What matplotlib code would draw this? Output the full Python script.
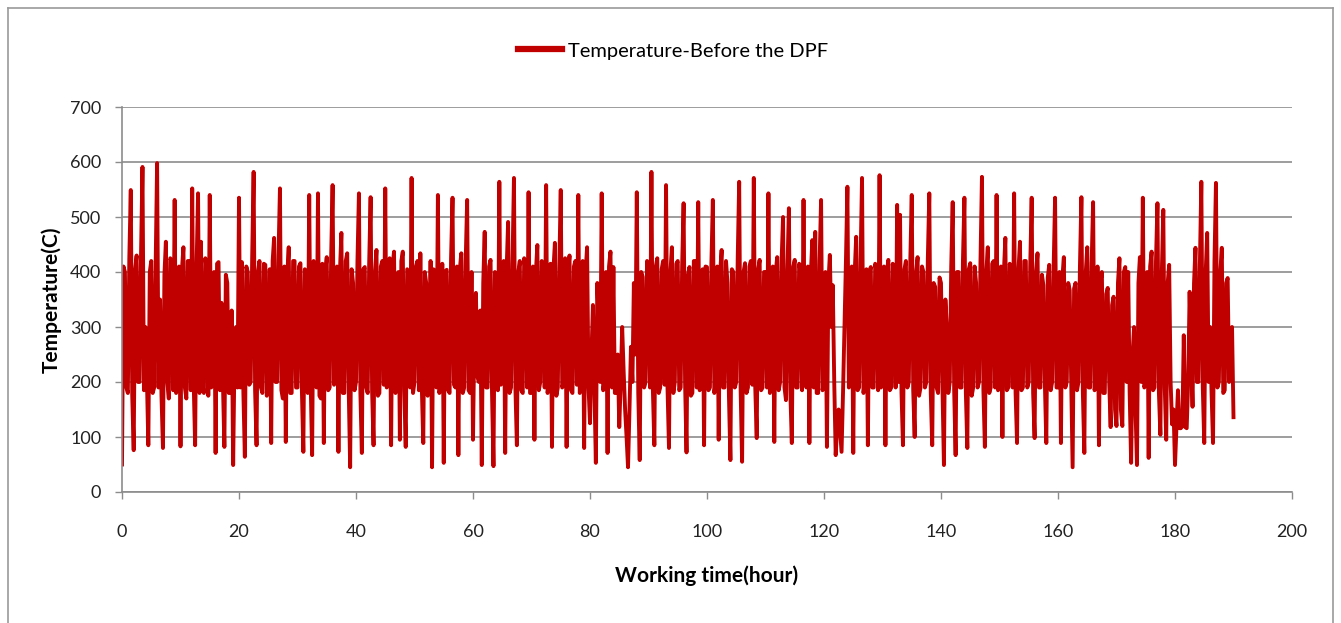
import numpy as np
import matplotlib.pyplot as plt
from matplotlib.lines import Line2D

plt.rcParams['font.family'] = ['Lato', 'DejaVu Sans']

# Temperature readings before the DPF, one reading every quarter hour (C)
temp_00_10 = [50, 410, 400, 190, 180, 425, 549, 175, 76, 405, 430, 200, 200, 430, 591, 185, 300, 210, 85, 400,
              420, 180, 190, 410, 598, 190, 350, 175, 80, 395, 455, 200, 170, 425, 420, 185, 531, 180, 200, 410]
temp_10_20 = [83, 405, 445, 190, 170, 420, 420, 185, 552, 200, 85, 410, 543, 180, 455, 195, 180, 425, 400, 175,
              540, 190, 200, 400, 71, 415, 418, 185, 344, 200, 82, 395, 380, 180, 180, 330, 49, 260, 300, 190]
temp_20_30 = [535, 190, 418, 180, 64, 410, 400, 195, 200, 425, 582, 185, 85, 400, 420, 190, 180, 415, 413, 175,
              190, 405, 89, 420, 462, 200, 200, 430, 552, 185, 170, 410, 91, 395, 445, 180, 180, 420, 420, 190]
temp_30_40 = [190, 410, 416, 185, 73, 405, 400, 180, 540, 200, 67, 420, 380, 190, 543, 175, 170, 415, 89, 400,
              427, 185, 190, 425, 558, 195, 250, 410, 73, 400, 471, 180, 180, 420, 434, 190, 45, 405, 380, 185]
temp_40_50 = [200, 420, 543, 180, 71, 405, 409, 190, 180, 415, 536, 185, 85, 400, 440, 175, 180, 410, 420, 195,
              552, 190, 200, 425, 85, 410, 437, 180, 190, 400, 95, 420, 437, 185, 82, 405, 300, 190, 571, 180]
temp_50_60 = [200, 410, 420, 185, 434, 190, 89, 400, 380, 175, 200, 420, 45, 405, 400, 190, 540, 180, 200, 415,
              53, 400, 404, 185, 180, 425, 535, 195, 190, 410, 67, 405, 434, 180, 190, 420, 531, 185, 180, 400]
temp_60_70 = [95, 300, 362, 210, 200, 330, 49, 380, 473, 190, 190, 410, 422, 180, 47, 400, 380, 185, 564, 195,
              200, 420, 71, 405, 491, 180, 190, 415, 571, 190, 85, 400, 420, 185, 180, 425, 400, 190, 545, 180]
temp_70_80 = [180, 410, 95, 400, 449, 185, 200, 420, 400, 190, 558, 180, 200, 415, 82, 405, 453, 175, 190, 410,
              549, 190, 200, 425, 82, 400, 430, 185, 180, 410, 420, 195, 540, 180, 190, 420, 80, 400, 445, 190]
temp_80_90 = [125, 250, 340, 190, 53, 380, 300, 200, 543, 185, 200, 400, 71, 410, 437, 190, 409, 180, 180, 250,
              118, 200, 300, 220, 150, 100, 45, 150, 264, 200, 380, 250, 545, 180, 58, 400, 391, 190, 200, 420]
temp_90_100 = [400, 190, 582, 185, 85, 410, 425, 180, 190, 405, 420, 195, 558, 190, 80, 400, 445, 180, 200, 415,
               420, 185, 190, 410, 525, 200, 72, 395, 409, 175, 180, 420, 420, 190, 527, 185, 200, 405, 85, 410]
temp_100_110 = [409, 185, 190, 415, 531, 180, 200, 410, 95, 400, 440, 190, 190, 420, 380, 175, 58, 405, 400, 190,
                200, 425, 564, 185, 55, 400, 416, 180, 190, 410, 420, 195, 571, 190, 98, 405, 422, 185, 190, 400]
temp_110_120 = [400, 190, 543, 180, 200, 410, 91, 400, 427, 185, 200, 420, 500, 190, 167, 405, 516, 180, 89, 410,
                422, 190, 190, 415, 400, 185, 531, 200, 190, 410, 89, 395, 458, 190, 473, 180, 180, 420, 531, 185]
temp_120_130 = [200, 400, 82, 380, 431, 300, 376, 200, 67, 120, 150, 110, 73, 180, 300, 420, 555, 190, 200, 410,
                71, 400, 464, 185, 190, 420, 571, 180, 200, 405, 85, 400, 409, 190, 190, 415, 400, 185, 576, 190]
temp_130_140 = [200, 410, 85, 400, 422, 185, 190, 415, 380, 190, 522, 200, 504, 180, 85, 405, 420, 190, 200, 420,
                540, 185, 100, 400, 427, 175, 190, 410, 400, 190, 200, 425, 543, 180, 85, 380, 373, 190, 180, 390]
temp_140_150 = [380, 190, 49, 350, 300, 180, 200, 410, 527, 185, 67, 400, 400, 190, 190, 420, 535, 180, 80, 405,
                416, 175, 190, 410, 380, 190, 200, 420, 573, 185, 82, 400, 445, 180, 190, 415, 420, 190, 540, 185]
temp_150_160 = [200, 410, 100, 400, 462, 185, 190, 415, 400, 190, 543, 180, 89, 405, 455, 185, 190, 420, 420, 190,
                200, 410, 535, 180, 98, 400, 434, 190, 190, 395, 376, 200, 89, 390, 413, 185, 200, 405, 535, 190]
temp_160_170 = [190, 400, 89, 390, 427, 190, 200, 380, 367, 200, 45, 370, 380, 185, 200, 410, 536, 180, 71, 400,
                445, 190, 190, 415, 527, 185, 200, 410, 85, 380, 400, 180, 180, 360, 371, 200, 118, 340, 355, 150]
temp_170_180 = [120, 380, 425, 150, 120, 400, 409, 200, 400, 180, 53, 250, 300, 150, 49, 380, 427, 200, 535, 190,
                200, 400, 62, 410, 437, 185, 190, 420, 525, 180, 104, 400, 513, 190, 95, 380, 413, 200, 123, 150]
temp_180_190 = [49, 116, 185, 116, 116, 120, 285, 118, 116, 200, 364, 250, 155, 380, 444, 200, 200, 410, 564, 190,
                89, 400, 471, 200, 300, 180, 89, 420, 562, 190, 200, 400, 444, 180, 185, 380, 389, 200, 276, 300, 136]

temperature = (temp_00_10 + temp_10_20 + temp_20_30 + temp_30_40 + temp_40_50
               + temp_50_60 + temp_60_70 + temp_70_80 + temp_80_90 + temp_90_100
               + temp_100_110 + temp_110_120 + temp_120_130 + temp_130_140
               + temp_140_150 + temp_150_160 + temp_160_170 + temp_170_180
               + temp_180_190)
hours = np.arange(len(temperature)) * 0.25

x_ticks = [0, 20, 40, 60, 80, 100, 120, 140, 160, 180, 200]
y_ticks = [0, 100, 200, 300, 400, 500, 600, 700]

red = '#C00000'
grid_grey = '#8C8C8C'

fig = plt.figure(figsize=(13.41, 6.23), dpi=100)
ax = fig.add_axes([122 / 1341, 131 / 623, 1170 / 1341, 385 / 623])

ax.plot(hours, temperature, color=red, linewidth=2.8, solid_joinstyle='round')

ax.set_xlim(0, 200)
ax.set_ylim(0, 700)
ax.set_xticks(x_ticks)
ax.set_yticks(y_ticks)
ax.tick_params(axis='both', labelsize=13, length=5, width=1, direction='out',
               colors=grid_grey, labelcolor='#222222')
ax.tick_params(axis='x', pad=18)
ax.tick_params(axis='y', pad=10)
ax.yaxis.grid(True, color=grid_grey, linewidth=1.2)
ax.set_axisbelow(True)
for side in ['top', 'right']:
    ax.spines[side].set_visible(False)
for side in ['left', 'bottom']:
    ax.spines[side].set_color(grid_grey)
    ax.spines[side].set_linewidth(1.2)

ax.set_xlabel('Working time(hour)', fontsize=15, fontweight='bold', labelpad=18)
ax.set_ylabel('Temperature(C)', fontsize=15, fontweight='bold', labelpad=6)

handle = Line2D([], [], color=red, linewidth=4.5)
fig.legend([handle], ['Temperature-Before the DPF'], loc='center',
           bbox_to_anchor=(673 / 1341, 1 - 51 / 623), frameon=False,
           fontsize=14.5, handlelength=2.2, handletextpad=0.3)

# chart area border
border = dict(color='#9A9A9A', linewidth=1.2, transform=fig.transFigure)
fig.add_artist(Line2D([8 / 1341, 8 / 1341], [0, 1 - 8 / 623], **border))
fig.add_artist(Line2D([8 / 1341, 1333 / 1341], [1 - 8 / 623, 1 - 8 / 623], **border))
fig.add_artist(Line2D([1333 / 1341, 1333 / 1341], [0, 1 - 8 / 623], **border))

fig.savefig('out.png', dpi=100)
